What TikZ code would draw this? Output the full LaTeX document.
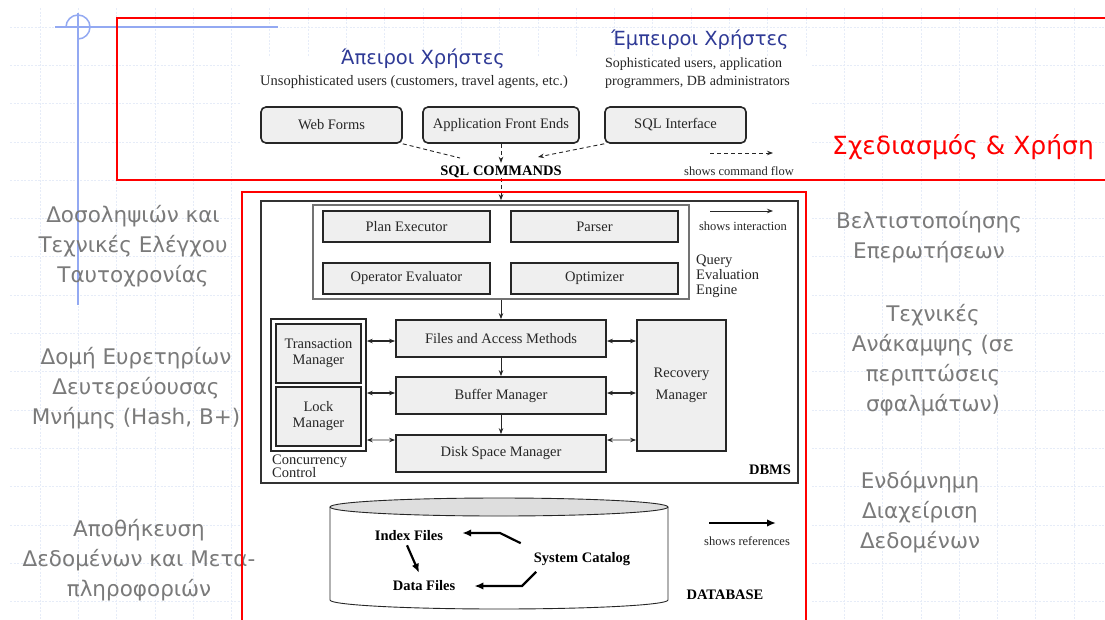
\documentclass[tikz,border=0pt]{standalone}
\usepackage{fontspec}
\setmainfont{Liberation Serif}
\newfontfamily\grfont{DejaVu Sans}
\usetikzlibrary{arrows.meta}
\definecolor{txtgray}{HTML}{7A7A7A}
\definecolor{headblue}{HTML}{2F3A96}
\definecolor{gridblue}{HTML}{E6ECF8}
\definecolor{boxfill}{HTML}{EFEFEF}
\definecolor{decoblue}{HTML}{93A9F2}
\definecolor{ink}{HTML}{262626}
\tikzset{
  gridl/.style={draw=gridblue, line width=0.8pt, dash pattern=on 2pt off 1.5pt},
  userbox/.style={draw=ink, line width=1.6pt, fill=boxfill, rounded corners=5pt, inner sep=0pt, text=ink, font=\fontsize{14.5}{16}\selectfont},
  modbox/.style={draw=ink, line width=1.8pt, fill=boxfill, inner sep=0pt, text=ink, align=center, font=\fontsize{14.5}{16}\selectfont},
  frame/.style={draw=ink, line width=1.5pt, inner sep=0pt},
  lbl/.style={inner sep=0pt, text=ink, font=\fontsize{14.5}{16}\selectfont},
  blbl/.style={inner sep=0pt, text=black, font=\bfseries\fontsize{14.5}{16}\selectfont},
  smalllbl/.style={inner sep=0pt, text=ink, font=\fontsize{12.5}{14}\selectfont},
  side/.style={inner sep=0pt, text=txtgray, align=center, font=\grfont\fontsize{21.5}{30}\selectfont},
  headg/.style={inner sep=0pt, text=headblue, font=\grfont\fontsize{19.5}{22}\selectfont},
  redbox/.style={draw=red, line width=2.8pt},
  cmdline/.style={draw=ink, line width=0.9pt, dash pattern=on 4pt off 3pt},
  cmd/.style={cmdline, -{Stealth[length=6pt,width=4.5pt]}},
  inter/.style={draw=ink, line width=0.9pt, -{Stealth[length=6pt,width=4.5pt]}},
  dbl/.style={draw=ink, line width=1.1pt, {Stealth[length=6pt,width=4.5pt]}-{Stealth[length=6pt,width=4.5pt]}},
  dblg/.style={draw=black!30, line width=1.3pt, {Stealth[length=6pt,width=4.5pt,color=ink]}-{Stealth[length=6pt,width=4.5pt,color=ink]}},
  ref/.style={draw=black, line width=2.2pt, -{Latex[length=9pt,width=7.5pt]}},
  deco/.style={draw=decoblue, line width=1.5pt},
}
\begin{document}
\begin{tikzpicture}[x=1pt,y=-1pt]
\useasboundingbox (0,0) rectangle (1105,619);
\fill[white] (0,0) rectangle (1105,619);
% background grid
\foreach \i in {0,...,27} \draw[gridl] ({40+38.3*\i},8) -- ({40+38.3*\i},619);
\foreach \j in {0,...,15} \draw[gridl] (10,{27+38.3*\j}) -- (1105,{27+38.3*\j});
% crosshair decoration
\draw[deco] (55,27) -- (278,27);
\draw[deco] (78,13) -- (78,305);
\draw[deco] (66,27) arc[start angle=180, end angle=-90, radius=12pt];
% white diagram area
\fill[white] (240,57) rectangle (812,619);

% side texts
\node[side] (s1) at (133,246) {Δοσοληψιών και\\Τεχνικές Ελέγχου\\Ταυτοχρονίας};
\node[side] (s2) at (136,388) {Δομή Ευρετηρίων\\Δευτερεύουσας\\Μνήμης (Hash, B+)};
\node[side] (s3) at (139,560) {Αποθήκευση\\Δεδομένων και Μετα-\\πληροφοριών};
\node[side] (s4) at (929,237) {Βελτιστοποίησης\\Επερωτήσεων};
\node[side] (s5) at (933,360) {Τεχνικές\\Ανάκαμψης (σε\\περιπτώσεις\\σφαλμάτων)};
\node[side] (s6) at (920,512) {Ενδόμνημη\\Διαχείριση\\Δεδομένων};
\node[inner sep=0pt, text=red, font=\grfont\fontsize{25}{28}\selectfont] (title) at (963,147) {Σχεδιασμός \& Χρήση};

% users
\node[headg] (t1) at (423,59) {Άπειροι Χρήστες};
\node[lbl, font=\fontsize{14.5}{15}\selectfont] (t1s) at (414,82) {Unsophisticated users (customers, travel agents, etc.)};
\node[headg] (t2) at (700,40) {Έμπειροι Χρήστες};
\node[lbl, anchor=west, align=left, font=\fontsize{14}{18}\selectfont] (t2s) at (605,73) {Sophisticated users, application\\programmers, DB administrators};

\node[userbox, minimum width=141pt, minimum height=36pt] (web) at (331.5,125) {Web Forms};
\node[userbox, minimum width=156pt, minimum height=36pt] (app) at (501,125) {Application Front Ends};
\node[userbox, minimum width=141pt, minimum height=36pt] (sqli) at (675.5,125) {SQL Interface};
\node[blbl] (sqlc) at (501,172) {SQL COMMANDS};

\coordinate (wfend) at (460,158);
\coordinate (siend) at (538,157);
\draw[cmdline] (web.south east) -- (wfend);
\draw[cmd] (app.south) -- ([yshift=3pt]sqlc.north);
\draw[cmd] (sqli.south west) -- (siend);

\coordinate (cf1) at (710,153);
\coordinate (cf2) at (773,153);
\draw[cmd] (cf1) -- (cf2);
\node[smalllbl] (cft) at (739,171) {shows command flow};

% DBMS
\node[frame, draw=black!80, line width=1.6pt, minimum width=537pt, minimum height=282pt] (dbms) at (529.5,342) {};
\draw[cmd] (sqlc.south) -- (sqlc.south |- dbms.north);
\node[frame, draw=black!55, line width=1.2pt, minimum width=376pt, minimum height=94pt] (qee) at (501,252) {};
\node[modbox, minimum width=167pt, minimum height=31pt] (plan) at (406.5,226.5) {Plan Executor};
\node[modbox, minimum width=167pt, minimum height=31pt] (parser) at (594.5,226.5) {Parser};
\node[modbox, minimum width=167pt, minimum height=31pt] (opev) at (406.5,278.5) {Operator Evaluator};
\node[modbox, minimum width=167pt, minimum height=31pt] (opt) at (594.5,278.5) {Optimizer};
\node[lbl, anchor=north west, align=left, font=\fontsize{14.5}{15}\selectfont] (qeel) at (696,255) {Query\\Evaluation\\Engine};

\coordinate (ia1) at (710,211);
\coordinate (ia2) at (773,211);
\draw[inter] (ia1) -- (ia2);
\node[smalllbl] (iat) at (743,226) {shows interaction};

\node[frame, line width=1.6pt, minimum width=95pt, minimum height=132pt] (cc) at (318.5,385) {};
\node[modbox, minimum width=85pt, minimum height=59pt] (tm) at (318.5,353.5) {Transaction\\Manager};
\node[modbox, minimum width=85pt, minimum height=59pt] (lm) at (318.5,416.5) {Lock\\Manager};
\node[lbl, anchor=west] (cc1) at (272,461) {Concurrency};
\node[lbl, anchor=west] (cc2) at (272,472.5) {Control};

\node[modbox, minimum width=210pt, minimum height=37pt] (files) at (501,338.5) {Files and Access Methods};
\node[modbox, minimum width=210pt, minimum height=37pt] (buffer) at (501,395.5) {Buffer Manager};
\node[modbox, minimum width=210pt, minimum height=37pt] (disk) at (501,453.5) {Disk Space Manager};
\node[modbox, minimum width=89pt, minimum height=131pt, font=\fontsize{14.5}{22}\selectfont] (rec) at (681.5,385.5) {Recovery\\Manager};
\node[blbl] (dbmsl) at (770,470) {DBMS};

\draw[inter] (qee.south) -- (files.north);
\draw[inter] (files.south) -- (buffer.north);
\draw[inter] (buffer.south) -- (disk.north);

\coordinate (fw) at ([yshift=-2.5pt]files.west);
\coordinate (bw) at ([yshift=2.5pt]buffer.west);
\coordinate (dw) at ([yshift=13.5pt]disk.west);
\coordinate (fe) at ([yshift=-2.5pt]files.east);
\coordinate (be) at ([yshift=2.5pt]buffer.east);
\coordinate (de) at ([yshift=13.5pt]disk.east);
\draw[dbl] (cc.east |- fw) -- (fw);
\draw[dbl] (cc.east |- bw) -- (bw);
\draw[dblg] (cc.east |- dw) -- (dw);
\draw[dbl] (fe) -- (rec.west |- fe);
\draw[dbl] (be) -- (rec.west |- be);
\draw[dblg] (de) -- (rec.west |- de);

% database cylinder
\draw[draw=ink, line width=0.9pt] (330,507) -- (330,600) arc[start angle=180, end angle=360, x radius=169pt, y radius=9pt] -- (668,507);
\draw[draw=ink, line width=0.9pt, fill=black!13] (499,507) ellipse [x radius=169pt, y radius=9pt];

\node[blbl] (idx) at (409,536) {Index Files};
\node[blbl] (data) at (424,586) {Data Files};
\node[blbl] (sys) at (582,559) {System Catalog};
\node[blbl] (dbl) at (725,595) {DATABASE};
\node[smalllbl] (srt) at (747,541) {shows references};

\draw[ref] ([shift={(-13,-9)}]sys.north west) -- (500,533) -- ([shift={(19,-3)}]idx.east);
\draw[ref] ([shift={(2.5,6)}]sys.south west) -- (522,586) -- ([xshift=19pt]data.east);
\draw[ref] ([shift={(-2,4)}]idx.south) -- ([shift={(-5,-8)}]data.north);
\coordinate (rl1) at (709,523);
\coordinate (rl2) at (776,523);
\draw[ref] (rl1) -- (rl2);

% red frames
\draw[redbox] (117,18) rectangle (1115,180);
\draw[redbox] (242,192) rectangle (806,630);
\end{tikzpicture}
\end{document}
